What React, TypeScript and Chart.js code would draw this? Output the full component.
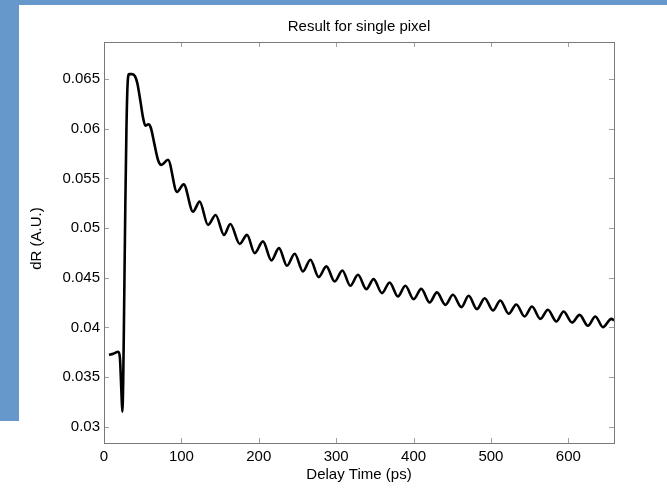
import React, { useEffect, useRef } from 'react';
import { Chart, registerables } from 'chart.js';

Chart.register(...registerables);

const delayTime: number[] = [
  6.5, 12, 18.5, 20.5, 22.5, 23.7, 24.8, 26, 27.5, 29, 30.5, 32.5, 36, 40, 43, 47,
  50.5, 53.5, 57.5, 60.5, 65, 70, 74.2, 82.7, 94.3, 103, 115, 123.6, 134.4, 144.3,
  155, 163.3, 175.3, 184.8, 194.7, 205.4, 216.3, 226.1, 236.4, 246.4, 257.1, 266.7,
  277.4, 287.3, 298.1, 308, 318.3, 328.2, 339, 348.4, 359.2, 369.1, 379.8, 389.4,
  400.1, 410, 420.8, 430.2, 441.1, 450.9, 461.8, 471.2, 481.9, 491.9, 502.6, 512.1,
  522.9, 532.8, 543.5, 553, 563.8, 573.6, 584.5, 593.9, 604.7, 614.6, 625.3, 634.9,
  644.7, 655.5, 659,
];

const dR: number[] = [
  0.03722, 0.03735, 0.03755, 0.037, 0.0335, 0.0315, 0.0345, 0.042, 0.052, 0.06, 0.0645,
  0.0655, 0.0655, 0.0653, 0.0646, 0.0628, 0.0611, 0.0603, 0.06045, 0.0601, 0.0585,
  0.0568, 0.05636, 0.05687, 0.05364, 0.0544, 0.05165, 0.05266, 0.05031, 0.05132,
  0.04931, 0.05041, 0.0484, 0.04931, 0.04748, 0.04866, 0.04674, 0.04798, 0.0462,
  0.04741, 0.04563, 0.04681, 0.04506, 0.04614, 0.04462, 0.04573, 0.04419, 0.0453,
  0.04385, 0.04486, 0.04345, 0.04452, 0.04311, 0.04419, 0.04284, 0.04388, 0.04251,
  0.04352, 0.04227, 0.04328, 0.04204, 0.04318, 0.04184, 0.04294, 0.0417, 0.04271,
  0.04137, 0.04231, 0.0411, 0.0421, 0.04086, 0.04177, 0.04059, 0.0416, 0.04049,
  0.04126, 0.04016, 0.0411, 0.04002, 0.04086, 0.0407,
];

const xTicks: number[] = [0, 100, 200, 300, 400, 500, 600];
const yTicks: number[] = [0.03, 0.035, 0.04, 0.045, 0.05, 0.055, 0.06, 0.065];
const xRange: number[] = [0, 659];
const yRange: number[] = [0.02836, 0.06873];

const titleText = 'Result for single pixel';
const xLabel = 'Delay Time (ps)';
const yLabel = 'dR (A.U.)';

const FONT = '"Liberation Sans", Arial, Helvetica, sans-serif';

export default function App() {
  const ref = useRef<HTMLCanvasElement>(null);

  useEffect(() => {
    if (!ref.current) return;

    const framePlugin = {
      id: 'matlabFrame',
      afterDraw(chart: any) {
        const { ctx, chartArea, scales } = chart;
        const { left, right, top, bottom } = chartArea;
        ctx.save();
        // tick marks inside on all four sides
        ctx.strokeStyle = '#a0a0a0';
        ctx.lineWidth = 1;
        const tl = 5;
        ctx.beginPath();
        xTicks.forEach((v) => {
          const px = Math.round(scales.x.getPixelForValue(v)) + 0.5;
          ctx.moveTo(px, bottom);
          ctx.lineTo(px, bottom - tl);
          ctx.moveTo(px, top);
          ctx.lineTo(px, top + tl);
        });
        yTicks.forEach((v) => {
          const py = Math.round(scales.y.getPixelForValue(v)) + 0.5;
          ctx.moveTo(left, py);
          ctx.lineTo(left + tl, py);
          ctx.moveTo(right, py);
          ctx.lineTo(right - tl, py);
        });
        ctx.stroke();
        // box
        ctx.strokeStyle = '#7a7a7a';
        ctx.strokeRect(left + 0.5, top + 0.5, right - left, bottom - top);

        // texts
        ctx.fillStyle = '#000';
        ctx.font = `15px ${FONT}`;
        ctx.textAlign = 'center';
        ctx.textBaseline = 'alphabetic';
        ctx.fillText(titleText, (left + right) / 2, 31);
        ctx.fillText(xLabel, (left + right) / 2, 479);
        ctx.translate(41, (top + bottom) / 2 - 4);
        ctx.rotate(-Math.PI / 2);
        ctx.fillText(yLabel, 0, 0);
        ctx.restore();
      },
    };

    const chart = new Chart(ref.current, {
      type: 'line',
      data: {
        datasets: [
          {
            data: delayTime.map((x, i) => ({ x, y: dR[i] })),
            borderColor: '#000000',
            borderWidth: 2.6,
            pointRadius: 0,
            fill: false,
            cubicInterpolationMode: 'monotone',
          },
        ],
      },
      options: {
        animation: false,
        responsive: false,
        maintainAspectRatio: false,
        layout: { padding: { left: 0, top: 42, right: 53, bottom: 0 } },
        plugins: {
          legend: { display: false },
          tooltip: { enabled: false },
          title: { display: false },
        },
        scales: {
          x: {
            type: 'linear',
            min: xRange[0],
            max: xRange[1],
            grid: { display: false, drawTicks: false },
            border: { display: false },
            ticks: {
              font: { family: FONT, size: 15 },
              color: '#000',
              padding: 5,
              maxRotation: 0,
              autoSkip: false,
              callback: (v: any) => String(v),
            },
            afterBuildTicks: (s: any) => {
              s.ticks = xTicks.map((v) => ({ value: v }));
            },
            afterFit: (s: any) => {
              s.height = 52;
            },
          },
          y: {
            type: 'linear',
            min: yRange[0],
            max: yRange[1],
            grid: { display: false, drawTicks: false },
            border: { display: false },
            ticks: {
              font: { family: FONT, size: 15 },
              color: '#000',
              padding: 4,
              autoSkip: false,
              callback: (v: any) => String(v),
            },
            afterBuildTicks: (s: any) => {
              s.ticks = yTicks.map((v) => ({ value: v }));
            },
            afterFit: (s: any) => {
              s.width = 104;
            },
          },
        },
      },
      plugins: [framePlugin],
    } as any);

    return () => chart.destroy();
  }, []);

  return (
    <div style={{ position: 'fixed', left: 0, top: 0, width: 667, height: 495, background: '#ffffff' }}>
      <div style={{ position: 'absolute', left: 0, top: 0, width: 667, height: 5, background: '#6798cc' }} />
      <div style={{ position: 'absolute', left: 0, top: 0, width: 19, height: 421, background: '#6798cc' }} />
      <canvas ref={ref} width={667} height={495} style={{ position: 'absolute', left: 0, top: 0 }} />
    </div>
  );
}
